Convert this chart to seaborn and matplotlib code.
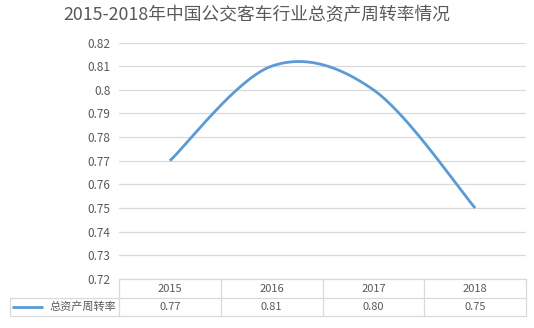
import numpy as np
import pandas as pd
import matplotlib
matplotlib.use("Agg")
import matplotlib.pyplot as plt
import matplotlib.transforms as mtransforms
from matplotlib.lines import Line2D
import seaborn as sns

years = ["2015", "2016", "2017", "2018"]
values = [0.77, 0.81, 0.80, 0.75]
value_labels = ["0.77", "0.81", "0.80", "0.75"]
series_name = "总资产周转率"
title = "2015-2018年中国公交客车行业总资产周转率情况"
y_ticks = [0.72, 0.73, 0.74, 0.75, 0.76, 0.77, 0.78, 0.79, 0.80, 0.81, 0.82]

sns.set_theme(style="white")
plt.rcParams['font.family'] = ['Noto Sans CJK SC', 'DejaVu Sans']

W, H = 534, 328
fig = plt.figure(figsize=(W / 100, H / 100), dpi=100)
L, R, T, B = 119, 526, 42.5, 279
ax = fig.add_axes([L / W, 1 - B / H, (R - L) / W, (B - T) / H])

# Excel-style smoothed curve (Catmull-Rom bezier through the data points)
xs = np.arange(len(values), dtype=float)
ys = np.array(values, dtype=float)
px = np.concatenate([[xs[0]], xs, [xs[-1]]])
py = np.concatenate([[ys[0]], ys, [ys[-1]]])
cx, cy = [], []
t = np.linspace(0, 1, 60)
for i in range(len(xs) - 1):
    p0 = np.array([xs[i], ys[i]])
    p3 = np.array([xs[i + 1], ys[i + 1]])
    c1 = p0 + (np.array([px[i + 2], py[i + 2]]) - np.array([px[i], py[i]])) / 6
    c2 = p3 - (np.array([px[i + 3], py[i + 3]]) - np.array([px[i + 1], py[i + 1]])) / 6
    bx = (1 - t) ** 3 * p0[0] + 3 * (1 - t) ** 2 * t * c1[0] + 3 * (1 - t) * t ** 2 * c2[0] + t ** 3 * p3[0]
    by = (1 - t) ** 3 * p0[1] + 3 * (1 - t) ** 2 * t * c1[1] + 3 * (1 - t) * t ** 2 * c2[1] + t ** 3 * p3[1]
    cx.extend(bx)
    cy.extend(by)
df = pd.DataFrame({"x": cx, "y": cy})

line_color = "#5B9BD5"
grid_color = "#D9D9D9"
text_color = "#595959"

for v in y_ticks:
    ax.axhline(v, color=grid_color, lw=0.9, zorder=0)

sns.lineplot(data=df, x="x", y="y", sort=False, ax=ax, color=line_color,
             lw=2.0, solid_capstyle="butt", legend=False, estimator=None)

ax.set_xlim(-0.5, len(years) - 0.5)
ax.set_ylim(y_ticks[0], y_ticks[-1])
ax.set_yticks(y_ticks)
ax.set_yticklabels([f"{v:.2f}".rstrip("0") if f"{v:.2f}".endswith("0") else f"{v:.2f}" for v in y_ticks],
                   color=text_color, fontsize=8.5)
ax.tick_params(axis="y", length=0, pad=6)
ax.set_xticks([])
ax.set_xlabel("")
ax.set_ylabel("")
for s in ax.spines.values():
    s.set_visible(False)

# Data table below the plot
trans = mtransforms.blended_transform_factory(ax.transData, ax.transAxes)
ah = B - T
def ay(py_):
    return (B - py_) / ah
row1 = ay(298)
row2 = ay(316)
left_x = -0.5 + (10 - L) / ((R - L) / len(years))
tab_kw = dict(color=grid_color, lw=0.9, transform=trans, clip_on=False)
ax.add_line(Line2D([-0.5, len(years) - 0.5], [0, 0], **tab_kw))
ax.add_line(Line2D([left_x, len(years) - 0.5], [row1, row1], **tab_kw))
ax.add_line(Line2D([left_x, len(years) - 0.5], [row2, row2], **tab_kw))
for i in range(len(years) + 1):
    ax.add_line(Line2D([i - 0.5, i - 0.5], [0, row2], **tab_kw))
ax.add_line(Line2D([left_x, left_x], [row1, row2], **tab_kw))

for i, (yr, lab) in enumerate(zip(years, value_labels)):
    ax.text(i, (0 + row1) / 2, yr, transform=trans, ha="center", va="center",
            fontsize=8, color=text_color, clip_on=False)
    ax.text(i, (row1 + row2) / 2, lab, transform=trans, ha="center", va="center",
            fontsize=8, color=text_color, clip_on=False)

# legend key in the table
fig.add_artist(Line2D([13 / W, 42 / W], [1 - 307 / H, 1 - 307 / H], color=line_color, lw=2.0))
fig.text(116 / W, 1 - 307 / H, series_name, ha="right", va="center", fontsize=8, color=text_color)

fig.text(257 / W, 1 - 15 / H, title, ha="center", va="center",
         fontsize=12.8, color=text_color)

fig.savefig("out.png", dpi=100, facecolor="white")
